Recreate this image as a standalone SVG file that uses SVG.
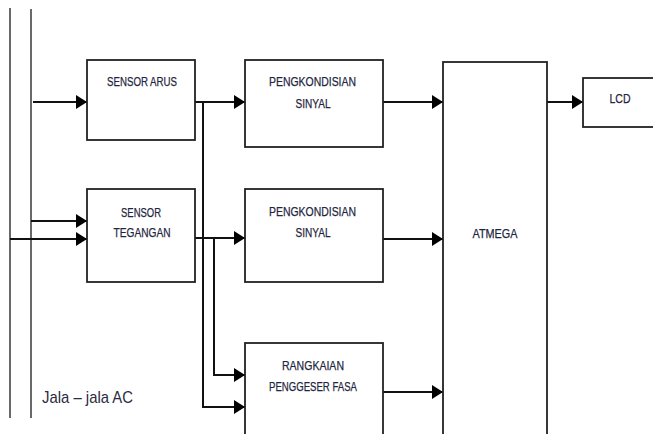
<svg xmlns="http://www.w3.org/2000/svg" width="653" height="434" viewBox="0 0 653 434">
<style>
.box{fill:#fff;stroke:#222;stroke-width:1.8}
.ln{fill:none;stroke:#111;stroke-width:2}
.bus{fill:none;stroke:#444;stroke-width:1.6}
.t{font-family:"Liberation Sans",Arial,sans-serif;font-size:13.5px;fill:#1e2540;text-anchor:middle;stroke:#1e2540;stroke-width:0.25}
.j{font-family:"Liberation Sans",Arial,sans-serif;font-size:17px;fill:#2a2a40}
</style>
<defs>
<marker id="ah" markerWidth="11" markerHeight="14" refX="11" refY="7" orient="auto" markerUnits="userSpaceOnUse">
<path d="M0,0 L11,7 L0,14 Z" fill="#000"/>
</marker>
</defs>
<rect width="653" height="434" fill="#fff"/>
<g id="ac-lines">
<line class="bus" x1="10" y1="8" x2="10" y2="418"/>
<line class="bus" x1="31" y1="9" x2="31" y2="126" stroke="#888"/>
<line class="bus" x1="31" y1="126" x2="31" y2="418"/>
<text class="j" x="42" y="403" textLength="91" lengthAdjust="spacingAndGlyphs">Jala – jala AC</text>
</g>
<g id="connectors">
<line class="ln" x1="33" y1="102" x2="87" y2="102" marker-end="url(#ah)"/>
<line class="ln" x1="31" y1="221" x2="87" y2="221" marker-end="url(#ah)"/>
<line class="ln" x1="10" y1="239" x2="87" y2="239" marker-end="url(#ah)"/>
<line class="ln" x1="195" y1="102" x2="245" y2="102" marker-end="url(#ah)"/>
<line class="ln" x1="195" y1="238" x2="245" y2="238" marker-end="url(#ah)"/>
<polyline class="ln" points="203,102 203,407 245,407" marker-end="url(#ah)"/>
<polyline class="ln" points="214,238 214,375 245,375" marker-end="url(#ah)"/>
<line class="ln" x1="383" y1="102" x2="443" y2="102" marker-end="url(#ah)"/>
<line class="ln" x1="383" y1="239" x2="443" y2="239" marker-end="url(#ah)"/>
<line class="ln" x1="383" y1="392" x2="443" y2="392" marker-end="url(#ah)"/>
<line class="ln" x1="547" y1="102" x2="583" y2="102" marker-end="url(#ah)"/>
</g>
<g id="sensor-arus">
<rect class="box" x="87" y="60" width="108" height="80"/>
<text class="t" x="142" y="86" textLength="70" lengthAdjust="spacingAndGlyphs">SENSOR ARUS</text>
</g>
<g id="sensor-tegangan">
<rect class="box" x="87" y="189" width="108" height="93"/>
<text class="t" x="141" y="217" textLength="40" lengthAdjust="spacingAndGlyphs">SENSOR</text>
<text class="t" x="142" y="237" textLength="57" lengthAdjust="spacingAndGlyphs">TEGANGAN</text>
</g>
<g id="pengkondisian-1">
<rect class="box" x="245" y="60" width="138" height="87"/>
<text class="t" x="312.5" y="86" textLength="87" lengthAdjust="spacingAndGlyphs">PENGKONDISIAN</text>
<text class="t" x="313" y="108" textLength="35" lengthAdjust="spacingAndGlyphs">SINYAL</text>
</g>
<g id="pengkondisian-2">
<rect class="box" x="245" y="189" width="138" height="93"/>
<text class="t" x="312.5" y="216" textLength="87" lengthAdjust="spacingAndGlyphs">PENGKONDISIAN</text>
<text class="t" x="313" y="237" textLength="35" lengthAdjust="spacingAndGlyphs">SINYAL</text>
</g>
<g id="rangkaian">
<rect class="box" x="245" y="343" width="138" height="100"/>
<text class="t" x="313" y="370" textLength="62" lengthAdjust="spacingAndGlyphs">RANGKAIAN</text>
<text class="t" x="313" y="391" textLength="88" lengthAdjust="spacingAndGlyphs">PENGGESER FASA</text>
</g>
<g id="atmega">
<rect class="box" x="443" y="62" width="104" height="380"/>
<text class="t" x="495" y="238" textLength="45" lengthAdjust="spacingAndGlyphs">ATMEGA</text>
</g>
<g id="lcd">
<rect class="box" x="583" y="78" width="80" height="49"/>
<text class="t" x="620" y="103" textLength="21" lengthAdjust="spacingAndGlyphs">LCD</text>
</g>
</svg>
